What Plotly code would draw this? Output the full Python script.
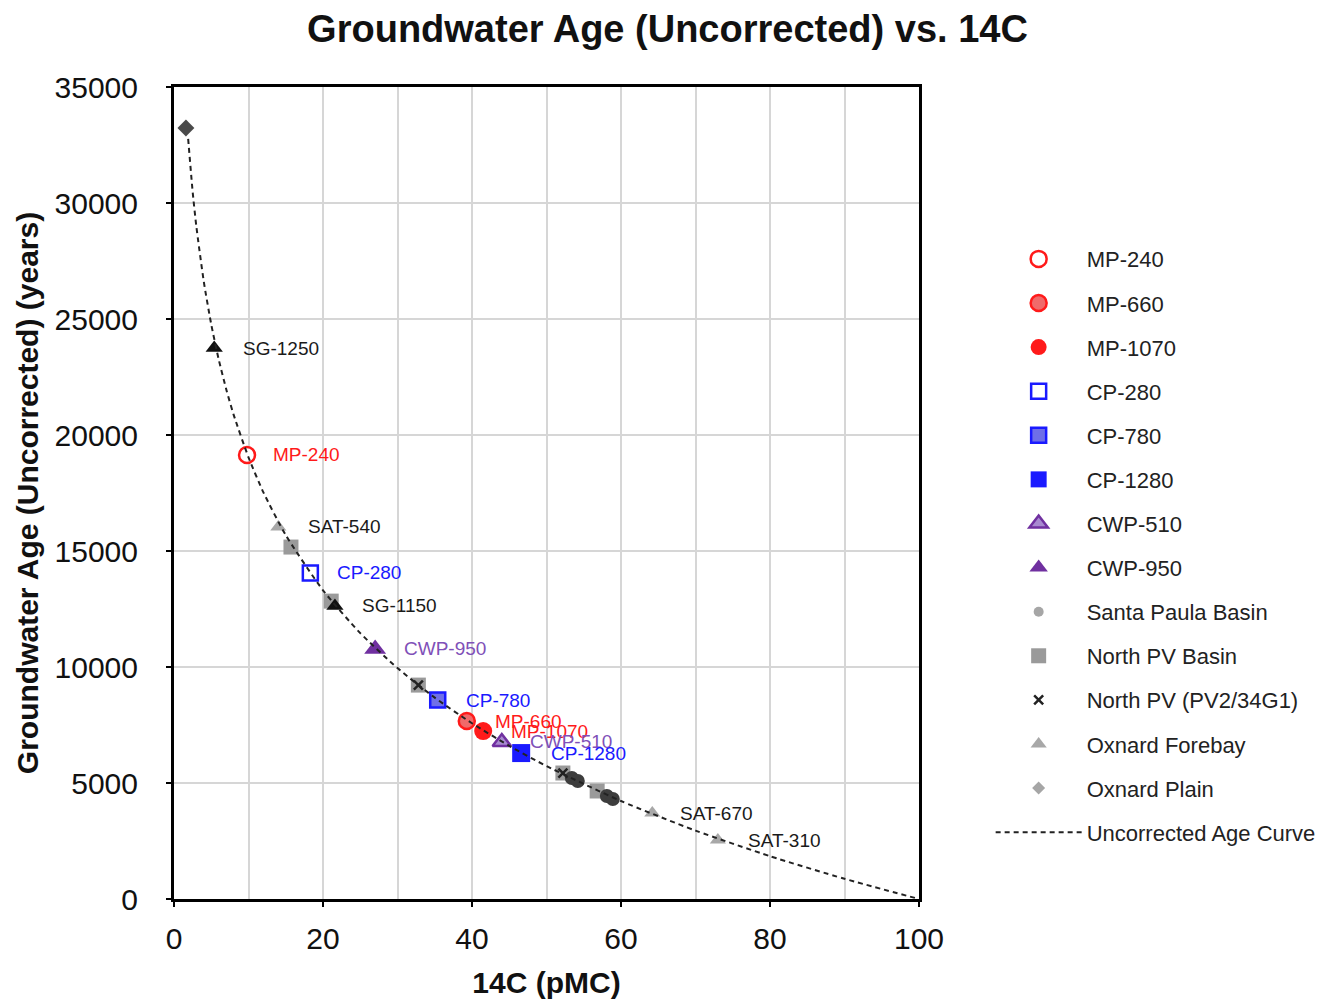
import plotly.graph_objects as go

FONT = "Liberation Sans, Arial, sans-serif"

# ---- data (pMC, uncorrected age in years) ----
mp240_x = [9.8];   mp240_y = [19140]
mp660_x = [39.3];  mp660_y = [7670]
mp1070_x = [41.5]; mp1070_y = [7240]
cp280_x = [18.3];  cp280_y = [14050]
cp780_x = [35.4];  cp780_y = [8580]
cp1280_x = [46.6]; cp1280_y = [6290]
cwp510_x = [44.0]; cwp510_y = [6770]
cwp950_x = [27.0]; cwp950_y = [10780]

santa_paula_x = [53.4, 54.2, 58.1, 58.9]
santa_paula_y = [5215, 5086, 4440, 4310]
north_pv_basin_x = [15.7, 21.1, 32.8, 52.2, 56.8]
north_pv_basin_y = [15170, 12840, 9220, 5430, 4655]
north_pv_pv2_x = [32.8, 52.2]
north_pv_pv2_y = [9220, 5430]
oxnard_forebay_x = [14.0, 64.2, 73.0]
oxnard_forebay_y = [16030, 3707, 2543]
oxnard_plain_x = [1.6]
oxnard_plain_y = [33230]
sg_x = [5.4, 21.6]
sg_y = [23750, 12630]

curve_x = [1.9, 2.5, 3, 4, 5, 6, 7, 8, 10, 12, 15, 20, 25, 30, 35, 40, 45, 50, 60, 70, 80, 90, 100]
curve_y = [32765, 30496, 28989, 26610, 24766, 23258, 21984, 20880, 19036, 17528, 15683,
           13305, 11461, 9953, 8679, 7575, 6601, 5730, 4223, 2949, 1845, 871, 0]

label_names = ["SG-1250", "MP-240", "SAT-540", "CP-280", "SG-1150", "CWP-950", "CP-780",
               "MP-660", "MP-1070", "CWP-510", "CP-1280", "SAT-670", "SAT-310"]
label_x = [9.0, 13.0, 17.7, 21.6, 25.0, 30.6, 38.9, 42.8, 45.0, 47.5, 50.3, 67.6, 76.8]
label_y = [23750, 19180, 16070, 14090, 12630, 10780, 8540, 7670, 7240, 6770, 6290, 3707, 2543]
label_groups = ["black", "red", "black", "blue", "black", "purple", "blue",
                "red", "red", "purple", "blue", "black", "black"]

RED = "#ff1a1a"
BLUE = "#1a1aff"
PURPLE = "#7030a0"
label_colors = {"black": "#1a1a1a", "red": RED, "blue": BLUE, "purple": "#8050b8"}

fig = go.Figure()

def add(name, xs, ys, rank, marker, showlegend=True, group=None):
    fig.add_trace(go.Scatter(
        x=xs, y=ys, mode="markers", name=name, marker=marker,
        legendgroup=group or name, legendrank=rank, showlegend=showlegend,
        hoverinfo="x+y+name"))

# gray background series first
add("North PV Basin", north_pv_basin_x, north_pv_basin_y, 10,
    dict(symbol="square", size=15, color="#9a9a9a"))
add("Santa Paula Basin", santa_paula_x, santa_paula_y, 9,
    dict(symbol="circle", size=14, color="#3d3d3d"), showlegend=False)
add("North PV (PV2/34G1)", north_pv_pv2_x, north_pv_pv2_y, 11,
    dict(symbol="x-thin", size=9, color="#222222", line=dict(width=2.5, color="#222222")))
add("Oxnard Forebay", oxnard_forebay_x, oxnard_forebay_y, 12,
    dict(symbol="triangle-up", size=14, color="#a8a8a8"))
add("Oxnard Plain", oxnard_plain_x, oxnard_plain_y, 13,
    dict(symbol="diamond", size=13, color="#4a4a4a"), showlegend=False)
add("SG", sg_x, sg_y, 20,
    dict(symbol="triangle-up", size=15, color="#111111"), showlegend=False)

# legend-only entries (lighter legend symbols, as in the original legend)
fig.add_trace(go.Scatter(x=[None], y=[None], mode="markers", name="Santa Paula Basin",
                         marker=dict(symbol="circle", size=10, color="#a6a6a6"),
                         legendgroup="Santa Paula Basin", legendrank=9, hoverinfo="skip"))
fig.add_trace(go.Scatter(x=[None], y=[None], mode="markers", name="Oxnard Plain",
                         marker=dict(symbol="diamond", size=10, color="#a6a6a6"),
                         legendgroup="Oxnard Plain", legendrank=13, hoverinfo="skip"))

# colored series
add("MP-240", mp240_x, mp240_y, 1,
    dict(symbol="circle", size=16, color="white", line=dict(width=2.5, color=RED)))
add("MP-660", mp660_x, mp660_y, 2,
    dict(symbol="circle", size=16, color="#f06a6a", line=dict(width=2.5, color=RED)))
add("MP-1070", mp1070_x, mp1070_y, 3,
    dict(symbol="circle", size=18, color=RED, line=dict(width=0)))
add("CP-280", cp280_x, cp280_y, 4,
    dict(symbol="square", size=15, color="white", line=dict(width=2.5, color=BLUE)))
add("CP-780", cp780_x, cp780_y, 5,
    dict(symbol="square", size=15, color="#6f6fe8", line=dict(width=2.5, color=BLUE)))
add("CP-1280", cp1280_x, cp1280_y, 6,
    dict(symbol="square", size=18, color=BLUE, line=dict(width=0)))
add("CWP-510", cwp510_x, cwp510_y, 7,
    dict(symbol="triangle-up", size=16, color="#a88ad0", line=dict(width=2.5, color=PURPLE)))
add("CWP-950", cwp950_x, cwp950_y, 8,
    dict(symbol="triangle-up", size=19, color=PURPLE, line=dict(width=0)))

fig.add_trace(go.Scatter(
    x=curve_x, y=curve_y, mode="lines", name="Uncorrected Age Curve",
    line=dict(color="#222222", width=2, dash="5px,4px", shape="spline", smoothing=0.6),
    legendgroup="curve", legendrank=14, hoverinfo="skip"))

for n, lx, ly, g in zip(label_names, label_x, label_y, label_groups):
    fig.add_annotation(x=lx, y=ly, text=n, showarrow=False, xanchor="left", yanchor="middle",
                       font=dict(family=FONT, size=19, color=label_colors[g]))

axis_common = dict(
    showline=True, linecolor="black", linewidth=3, mirror=True,
    gridcolor="#d6d6d6", gridwidth=2, zeroline=False, automargin=False,
    ticks="outside", ticklen=5, tickcolor="black", tickwidth=2,
    tickfont=dict(family=FONT, size=30, color="#111111"),
)

W, H = 1319, 996
ML, MT = 166, 79
PW, PH = 745, 812

fig.update_layout(
    width=W, height=H,
    paper_bgcolor="white", plot_bgcolor="white",
    margin=dict(l=ML, r=W - ML - PW, t=MT, b=H - MT - PH),
    title=dict(text="<b>Groundwater Age (Uncorrected) vs. 14C</b>", x=0.5, xref="container",
               xanchor="center", y=0.979, yref="container", yanchor="middle",
               font=dict(family=FONT, size=38, color="#111111")),
    xaxis=dict(range=[0, 100], dtick=20, tick0=0, ticklabelstandoff=6,
               minor=dict(dtick=10, showgrid=True, gridcolor="#d6d6d6", gridwidth=2),
               title=dict(text="<b>14C (pMC)</b>", standoff=18,
                          font=dict(family=FONT, size=30, color="#111111")),
               **axis_common),
    yaxis=dict(range=[0, 35000], dtick=5000, tick0=0, tickformat="d",
               title=dict(text="<b>Groundwater Age (Uncorrected) (years)</b>", standoff=8,
                          font=dict(family=FONT, size=30, color="#111111")),
               ticklabelstandoff=22,
               **axis_common),
    legend=dict(xref="container", yref="container", x=0.745, y=0.769,
                xanchor="left", yanchor="top", traceorder="grouped",
                tracegroupgap=12.5, itemwidth=86, itemsizing="trace", maxheight=900,
                font=dict(family=FONT, size=22, color="#222222"),
                bgcolor="rgba(0,0,0,0)"),
    showlegend=True,
)

fig.write_html("out.html")
